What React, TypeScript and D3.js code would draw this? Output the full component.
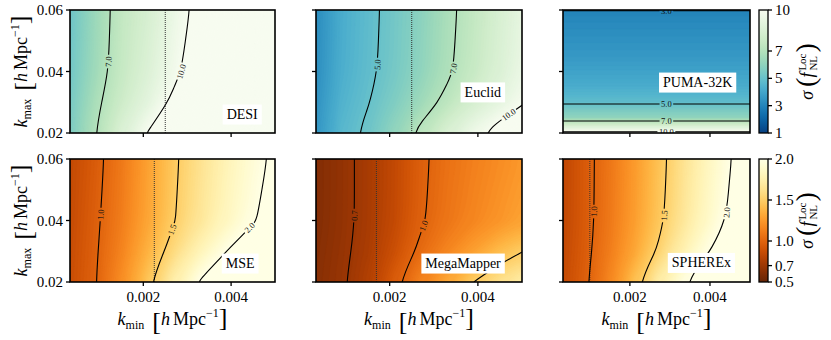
import { useMemo } from 'react';
import * as d3 from 'd3';

// k_min samples (h/Mpc) and k_max samples (h/Mpc) of the forecast grids
const kminGrid = [0.0003, 0.0009, 0.0015, 0.0021, 0.0027, 0.0033, 0.0039, 0.0045, 0.0051];
const kmaxGrid = [0.02, 0.03, 0.04, 0.05, 0.06];

// sigma(f_NL^Loc), one row per k_max (0.02 -> 0.06), one entry per k_min
const desiSigma = [
  [5.5, 6.95, 8.6, 10.05, 11.5, 12.6, 13.6, 14.6, 15.6],
  [5.35, 6.7, 7.9, 9.0, 10.3, 11.4, 12.4, 13.4, 14.4],
  [5.2, 6.4, 7.6, 8.6, 9.7, 10.8, 11.8, 12.8, 13.8],
  [5.15, 6.35, 7.55, 8.45, 9.55, 10.6, 11.6, 12.6, 13.6],
  [5.1, 6.3, 7.5, 8.3, 9.4, 10.4, 11.4, 12.4, 13.4],
];
const euclidSigma = [
  [3.5, 4.6, 5.2, 6.1, 7.3, 8.5, 9.6, 10.6, 11.5],
  [3.35, 4.4, 4.95, 5.6, 6.4, 7.3, 8.3, 9.1, 10.0],
  [3.25, 4.25, 4.8, 5.35, 6.0, 6.8, 7.65, 8.55, 9.5],
  [3.22, 4.22, 4.78, 5.32, 5.95, 6.75, 7.58, 8.48, 9.4],
  [3.2, 4.2, 4.75, 5.3, 5.9, 6.7, 7.5, 8.4, 9.3],
];
const mseSigma = [
  [0.87, 0.99, 1.2, 1.46, 1.75, 2.02, 2.22, 2.36, 2.48],
  [0.86, 0.98, 1.15, 1.36, 1.58, 1.8, 2.0, 2.15, 2.28],
  [0.85, 0.97, 1.12, 1.3, 1.49, 1.66, 1.83, 1.98, 2.12],
  [0.845, 0.96, 1.11, 1.29, 1.48, 1.645, 1.81, 1.955, 2.09],
  [0.84, 0.95, 1.1, 1.28, 1.47, 1.63, 1.79, 1.93, 2.06],
];
const megaSigma = [
  [0.62, 0.68, 0.78, 0.96, 1.15, 1.32, 1.5, 1.63, 1.75],
  [0.61, 0.67, 0.75, 0.88, 1.03, 1.16, 1.28, 1.41, 1.51],
  [0.6, 0.66, 0.74, 0.845, 0.98, 1.08, 1.16, 1.23, 1.3],
  [0.6, 0.66, 0.74, 0.842, 0.975, 1.07, 1.145, 1.21, 1.275],
  [0.6, 0.66, 0.74, 0.84, 0.97, 1.06, 1.13, 1.19, 1.25],
];
const spherexSigma = [
  [0.85, 0.98, 1.17, 1.43, 1.72, 1.96, 2.18, 2.34, 2.48],
  [0.84, 0.96, 1.12, 1.3, 1.52, 1.75, 1.97, 2.15, 2.3],
  [0.83, 0.95, 1.1, 1.26, 1.45, 1.65, 1.85, 2.03, 2.18],
  [0.83, 0.95, 1.095, 1.255, 1.44, 1.635, 1.83, 2.01, 2.165],
  [0.83, 0.95, 1.09, 1.25, 1.43, 1.62, 1.81, 1.99, 2.15],
];
// PUMA-32K barely depends on k_min: a finer k_max profile
const pumaKmin = [0.0003, 0.0051];
const pumaKmax = [0.02, 0.0225, 0.025, 0.0275, 0.03, 0.0325, 0.035, 0.0375, 0.04, 0.0425, 0.045, 0.0475, 0.05, 0.0525, 0.055, 0.0575, 0.06];
const pumaSigma = [10.35, 8.2, 6.06, 5.5, 4.85, 4.5, 4.25, 4.05, 3.9, 3.75, 3.6, 3.5, 3.4, 3.3, 3.2, 3.1, 2.99];

const surveys = ['DESI', 'Euclid', 'PUMA-32K', 'MSE', 'MegaMapper', 'SPHEREx'];
const kfLines = [0.0025, 0.0025, null, 0.00225, 0.0017, 0.001];

const xTicks = [0.002, 0.004];
const yTicks = [0.02, 0.04, 0.06];
const topLevels = [3, 5, 7, 10];
const bottomLevels = [0.7, 1.0, 1.5, 2.0];
const topBarTicks = [1, 3, 5, 7, 10];
const bottomBarTicks = [0.5, 0.7, 1.0, 1.5, 2.0];

// contour label anchors: [level, k_min, k_max]
const labelAnchors = [
  [[7, 0.00117, 0.0431], [10, 0.0029, 0.0398]],
  [[5, 0.00173, 0.0424], [7, 0.0034, 0.0411], [10, 0.00475, 0.0252]],
  [[3, 0.0029, 0.06], [5, 0.0029, 0.0294], [7, 0.0029, 0.0239], [10, 0.0029, 0.0204]],
  [[1.0, 0.00106, 0.0418], [1.5, 0.0027, 0.0369], [2.0, 0.00445, 0.0372]],
  [[0.7, 0.00126, 0.0415], [1.0, 0.0028, 0.0382]],
  [[1.0, 0.00116, 0.0429], [1.5, 0.00285, 0.0415], [2.0, 0.0044, 0.0425]],
];

// layout
const W = 831;
const H = 340;
const cols = [[70, 275], [316, 522], [563, 750]];
const rows = [[10, 133], [159, 282]];
const cbar = [759, 768];
const boxPos = [[0.84, 0.85], [0.81, 0.67], [0.72, 0.59], [0.83, 0.85], [0.714, 0.85], [0.74, 0.845]];
const kminDomain = [0.00033, 0.005];
const kmaxDomain = [0.02, 0.06];
const FONT = '"Liberation Serif", "Times New Roman", serif';
const PAD = 2; // edge cells repeated so contour rings close far outside the axes

const topMap = (v: number) => d3.interpolateGnBu(1 - Math.max(0, Math.min(1, (v - 1) / 9)));
const bottomMap = (v: number) => d3.interpolateYlOrBr(1 - Math.max(0, Math.min(1, (v - 0.5) / 1.5)));

let ctx: CanvasRenderingContext2D | null = null;
function textWidth(s: string, size: number) {
  if (!ctx) ctx = document.createElement('canvas').getContext('2d');
  if (!ctx) return s.length * size * 0.5;
  ctx.font = `${size}px ${FONT}`;
  return ctx.measureText(s).width;
}

function fieldFor(idx: number) {
  if (idx === 2) {
    return { kmin: pumaKmin, kmax: pumaKmax, grid: pumaSigma.map((v) => pumaKmin.map(() => v)) };
  }
  const grid = [desiSigma, euclidSigma, null, mseSigma, megaSigma, spherexSigma][idx]!;
  return { kmin: kminGrid, kmax: kmaxGrid, grid };
}

const smoothRing = d3.line().curve(d3.curveBasisClosed);

function Panel({ idx }: { idx: number }) {
  const r = Math.floor(idx / 3);
  const c = idx % 3;
  const [x0, x1] = cols[c];
  const [y0, y1] = rows[r];
  const x = d3.scaleLinear().domain(kminDomain).range([x0, x1]);
  const y = d3.scaleLinear().domain(kmaxDomain).range([y1, y0]);
  const cmap = r === 0 ? topMap : bottomMap;
  const levels = r === 0 ? topLevels : bottomLevels;

  const built = useMemo(() => {
    const f = fieldFor(idx);
    const nx = f.kmin.length + 2 * PAD;
    const ny = f.kmax.length + 2 * PAD;
    const values: number[] = [];
    for (let j = 0; j < ny; j++) {
      const row = f.grid[Math.max(0, Math.min(f.kmax.length - 1, j - PAD))];
      for (let i = 0; i < nx; i++) values.push(row[Math.max(0, Math.min(f.kmin.length - 1, i - PAD))]);
    }
    const dk = f.kmin[1] - f.kmin[0];
    const dq = f.kmax[1] - f.kmax[0];
    const toPx = (gx: number, gy: number): [number, number] => [
      x(f.kmin[0] + (gx - 0.5 - PAD) * dk),
      y(f.kmax[0] + (gy - 0.5 - PAD) * dq),
    ];
    const ringsOf = (g: d3.ContourMultiPolygon) =>
      g.coordinates.flatMap((poly) => poly.map((ring) => ring.slice(0, -1).map(([gx, gy]) => toPx(gx, gy))));
    const pathOf = (rings: [number, number][][]) => rings.map((rg) => smoothRing(rg) || '').join('');

    const lo = r === 0 ? 1 : 0.5;
    const step = r === 0 ? 0.09 : 0.015;
    const hi = (d3.max(values) as number) + step;
    const ths = d3.range(lo, hi, step);
    const fills = d3
      .contours()
      .size([nx, ny])
      .thresholds(ths)(values)
      .map((g) => ({ d: pathOf(ringsOf(g)), color: cmap(g.value + step / 2) }));
    const lineSets = levels.map((lev) => {
      const g = d3.contours().size([nx, ny]).thresholds([lev])(values)[0];
      const rings = ringsOf(g);
      return { lev, d: pathOf(rings), rings };
    });
    const labels = labelAnchors[idx]
      .map(([lev, ka, kb]) => {
        const set = lineSets.find((s) => s.lev === lev);
        if (!set) return null;
        const tx = x(ka);
        const ty = y(kb);
        let best: { pts: number[][]; i: number } | null = null;
        let bd = Infinity;
        for (const ring0 of set.rings) {
          const ring = [...ring0, ring0[0]];
          const pts: number[][] = [];
          for (let i = 0; i < ring.length - 1; i++) {
            const [ax, ay] = ring[i];
            const [bx, by] = ring[i + 1];
            const n = Math.max(1, Math.ceil(Math.hypot(bx - ax, by - ay)));
            for (let s = 0; s < n; s++) pts.push([ax + ((bx - ax) * s) / n, ay + ((by - ay) * s) / n]);
          }
          pts.forEach((p, i) => {
            if (p[0] < x0 + 1 || p[0] > x1 - 1 || p[1] < y0 - 1 || p[1] > y1 + 1) return;
            const dd = Math.hypot(p[0] - tx, p[1] - ty);
            if (dd < bd) {
              bd = dd;
              best = { pts, i };
            }
          });
        }
        if (!best) return null;
        const { pts, i } = best as { pts: number[][]; i: number };
        const a = pts[Math.max(0, i - 8)];
        const b = pts[Math.min(pts.length - 1, i + 8)];
        let ang = (Math.atan2(b[1] - a[1], b[0] - a[0]) * 180) / Math.PI;
        if (ang > 80) ang -= 180;
        if (ang < -90) ang += 180;
        const text = lev.toFixed(1);
        return { x: pts[i][0], y: pts[i][1], ang, text, w: textWidth(text, 8.5) + 3 };
      })
      .filter(Boolean) as { x: number; y: number; ang: number; text: string; w: number }[];
    return { fills, lineSets, labels };
  }, [idx]);

  const clipId = `clip${idx}`;
  const maskId = `mask${idx}`;
  const kf = kfLines[idx];
  const name = surveys[idx];
  const bw = textWidth(name, 14) + 8;
  const bx = x0 + boxPos[idx][0] * (x1 - x0);
  const by = y0 + boxPos[idx][1] * (y1 - y0);

  return (
    <g>
      <defs>
        <clipPath id={clipId}>
          <rect x={x0} y={y0} width={x1 - x0} height={y1 - y0} />
        </clipPath>
        <mask id={maskId} maskUnits="userSpaceOnUse" x={0} y={0} width={W} height={H}>
          <rect x={0} y={0} width={W} height={H} fill="white" />
          {built.labels.map((l, i) => (
            <rect key={i} x={-l.w / 2} y={-4.5} width={l.w} height={9} fill="black"
              transform={`translate(${l.x},${l.y}) rotate(${l.ang})`} />
          ))}
        </mask>
      </defs>
      <g clipPath={`url(#${clipId})`}>
        <rect x={x0} y={y0} width={x1 - x0} height={y1 - y0} fill={cmap(r === 0 ? 1 : 0.5)} />
        {built.fills.map((f, i) => (
          <path key={i} d={f.d} fill={f.color} stroke={f.color} strokeWidth={0.3} />
        ))}
        {kf !== null && (
          <line x1={x(kf)} x2={x(kf)} y1={y0} y2={y1} stroke="#333" strokeWidth={1} strokeDasharray="1 1" />
        )}
        <g mask={`url(#${maskId})`}>
          {built.lineSets.map((s) => (
            <path key={s.lev} d={s.d} fill="none" stroke="#000" strokeWidth={1.1} />
          ))}
        </g>
        {built.labels.map((l, i) => (
          <text key={i} transform={`translate(${l.x},${l.y}) rotate(${l.ang})`} textAnchor="middle"
            dominantBaseline="central" fontSize={8.5} fill="#111">
            {l.text}
          </text>
        ))}
      </g>
      <rect x={bx - bw / 2} y={by - 10} width={bw} height={20} fill="white" />
      <text x={bx} y={by} textAnchor="middle" dominantBaseline="central" fontSize={14}>
        {name}
      </text>
      <rect x={x0} y={y0} width={x1 - x0} height={y1 - y0} fill="none" stroke="#000" strokeWidth={1.6} />
      {yTicks.map((t) => (
        <g key={t}>
          <line x1={x0 - 4} x2={x0} y1={y(t)} y2={y(t)} stroke="#000" strokeWidth={1.3} />
          {c === 0 && (
            <text x={x0 - 7} y={y(t)} textAnchor="end" dominantBaseline="central" fontSize={15}>
              {t.toFixed(2)}
            </text>
          )}
        </g>
      ))}
      {xTicks.map((t) => (
        <g key={t}>
          <line x1={x(t)} x2={x(t)} y1={y1} y2={y1 + 4} stroke="#000" strokeWidth={1.3} />
          {r === 1 && (
            <text x={x(t)} y={y1 + 20} textAnchor="middle" fontSize={15}>
              {t.toFixed(3)}
            </text>
          )}
        </g>
      ))}
      {r === 1 && (
        <text x={(x0 + x1) / 2} y={325} textAnchor="middle" fontSize={18}>
          <tspan fontStyle="italic">k</tspan>
          <tspan fontSize={12} dy={4}>min</tspan>
          <tspan fontSize={26} dy={1} dx={8}>[</tspan>
          <tspan fontStyle="italic" dy={-5}>h</tspan>
          <tspan dx={3}>Mpc</tspan>
          <tspan fontSize={12} dy={-8}>−1</tspan>
          <tspan fontSize={26} dy={9}>]</tspan>
        </text>
      )}
      {c === 0 && (
        <text transform={`translate(27,${(y0 + y1) / 2}) rotate(-90)`} textAnchor="middle" fontSize={18}>
          <tspan fontStyle="italic">k</tspan>
          <tspan fontSize={12} dy={4}>max</tspan>
          <tspan fontSize={26} dy={1} dx={8}>[</tspan>
          <tspan fontStyle="italic" dy={-5}>h</tspan>
          <tspan dx={3}>Mpc</tspan>
          <tspan fontSize={12} dy={-8}>−1</tspan>
          <tspan fontSize={26} dy={9}>]</tspan>
        </text>
      )}
    </g>
  );
}

function ColorBar({ row }: { row: number }) {
  const [y0, y1] = rows[row];
  const [cx0, cx1] = cbar;
  const lo = row === 0 ? 1 : 0.5;
  const hi = row === 0 ? 10 : 2;
  const cmap = row === 0 ? topMap : bottomMap;
  const ticks = row === 0 ? topBarTicks : bottomBarTicks;
  const s = d3.scaleLinear().domain([lo, hi]).range([y1, y0]);
  const gid = `cbar${row}`;
  const stops = d3.range(0, 1.0001, 0.05);
  const wLoc = textWidth('Loc', 11);
  const wNL = textWidth('NL', 11);
  return (
    <g>
      <defs>
        <linearGradient id={gid} x1="0" y1="1" x2="0" y2="0">
          {stops.map((t) => (
            <stop key={t} offset={t} stopColor={cmap(lo + t * (hi - lo))} />
          ))}
        </linearGradient>
      </defs>
      <rect x={cx0} y={y0} width={cx1 - cx0} height={y1 - y0} fill={`url(#${gid})`} stroke="#000" strokeWidth={1.3} />
      {ticks.map((t) => (
        <g key={t}>
          <line x1={cx1} x2={cx1 + 4} y1={s(t)} y2={s(t)} stroke="#000" strokeWidth={1.3} />
          <text x={cx1 + 7} y={s(t)} dominantBaseline="central" fontSize={15}>
            {row === 0 ? String(t) : t.toFixed(1)}
          </text>
        </g>
      ))}
      <text transform={`translate(813,${(y0 + y1) / 2}) rotate(-90)`} textAnchor="middle" fontSize={18}>
        <tspan fontStyle="italic">σ</tspan>
        <tspan fontSize={28} dx={4} dy={2}>(</tspan>
        <tspan fontStyle="italic" dy={-2}>f</tspan>
        <tspan fontSize={11} dy={-7} dx={2}>Loc</tspan>
        <tspan fontSize={11} dy={11} dx={-wLoc}>NL</tspan>
        <tspan fontSize={28} dy={-2} dx={Math.max(0, wLoc - wNL) + 1}>)</tspan>
      </text>
    </g>
  );
}

export default function App() {
  return (
    <svg width={W} height={H} style={{ position: 'absolute', left: 0, top: 0, background: '#fff' }}
      fontFamily={FONT}>
      {surveys.map((_, i) => (
        <Panel key={i} idx={i} />
      ))}
      <ColorBar row={0} />
      <ColorBar row={1} />
    </svg>
  );
}
